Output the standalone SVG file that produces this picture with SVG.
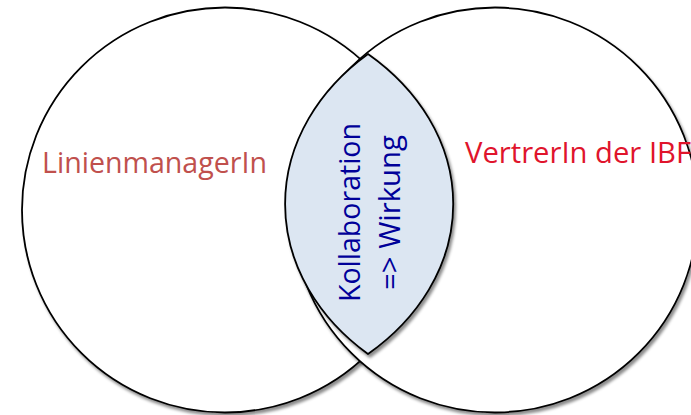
<svg xmlns="http://www.w3.org/2000/svg" width="691" height="415" viewBox="0 0 691 415">
  <defs>
    <filter id="shadow" x="-10%" y="-10%" width="125%" height="125%">
      <feDropShadow dx="2" dy="3" stdDeviation="1.6" flood-color="#000" flood-opacity="0.45"/>
    </filter>
    <style>
      .set { fill: #ffffff; stroke: #000000; stroke-width: 1.8; filter: url(#shadow); }
      .overlap { fill: #DCE6F2; stroke: #000000; stroke-width: 1.8; filter: url(#shadow); }
      .label { font-family: "Open Sans", "Liberation Sans", sans-serif; font-size: 30px; }
      .left { fill: #C0504D; }
      .right { fill: #E0142C; }
      .mid { fill: #000099; }
    </style>
  </defs>
  <rect width="691" height="415" fill="#ffffff"/>

  <g id="set-linienmanager">
    <ellipse class="set" cx="225" cy="210" rx="203" ry="202.5"/>
  </g>

  <g id="set-vertreter">
    <ellipse class="set" cx="495" cy="210" rx="203" ry="202.5"/>
  </g>

  <g id="overlap">
    <path class="overlap" d="M368,54 A251,202 0 0 0 368,354 A258,202 0 0 0 368,54 Z"/>
  </g>

  <g id="labels">
    <text class="label left" x="42" y="173" textLength="225" lengthAdjust="spacingAndGlyphs">LinienmanagerIn</text>
    <text class="label right" x="465" y="163" textLength="226" lengthAdjust="spacingAndGlyphs">VertrerIn der IBF</text>
    <text class="label mid" transform="translate(360,212.5) rotate(-90)" x="0" y="0" text-anchor="middle" textLength="179" lengthAdjust="spacingAndGlyphs">Kollaboration</text>
    <text class="label mid" transform="translate(400,212.5) rotate(-90)" x="0" y="0" text-anchor="middle" textLength="155" lengthAdjust="spacingAndGlyphs">=&gt; Wirkung</text>
  </g>
</svg>
